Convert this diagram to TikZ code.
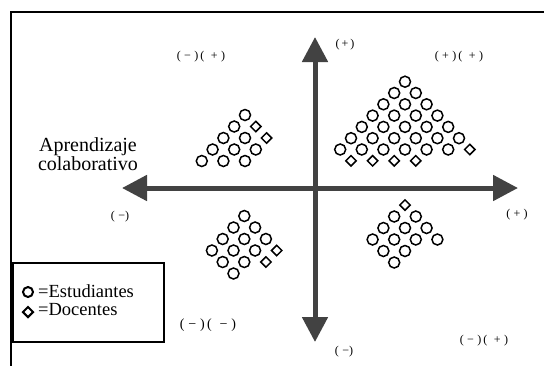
\documentclass[tikz,border=0pt]{standalone}
\usepackage{fontspec}
\setmainfont{Liberation Serif}
\usetikzlibrary{arrows.meta,shapes.geometric}
\definecolor{axisgray}{HTML}{424242}
\begin{document}
\begin{tikzpicture}[x=1pt,y=-1pt,
  stu/.style={circle,draw=black,line width=1.5pt,minimum size=11pt,inner sep=0pt},
  doc/.style={diamond,draw=black,line width=1.5pt,minimum size=11pt,inner sep=0pt},
  axisline/.style={draw=axisgray,line width=5pt,-{Triangle[length=25pt,width=25pt]}},
  sign/.style={font=\fontsize{12}{13}\selectfont,inner sep=0pt},
  bigtext/.style={font=\fontsize{20}{16}\selectfont,align=center,inner sep=0pt}]
\useasboundingbox (0,0) rectangle (544,365);
% frame
\draw[line width=2pt] (544,12) -- (11,12) -- (11,366);
% axes
\coordinate (C) at (315,188);
\coordinate (L) at (122,188);
\coordinate (R) at (518,188);
\coordinate (T) at (315,37);
\coordinate (B) at (315,342);
\path[axisline] (C) -- (L);
\path[axisline] (C) -- (R);
\path[axisline] (C) -- (T);
\path[axisline] (C) -- (B);
% labels
\node[sign] (st) at (345,45) {(\,+\,)};
\node[sign] (spp) at (459,57) {(\;+\;)\,(\;\;+\;)};
\node[sign] (smp) at (201,57) {(\;−\;)\,(\;\;+\;)};
\node[sign] (sl) at (120,217) {(\;−)};
\node[sign] (sr) at (517,215) {(\;+\;)};
\node[sign] (sb) at (344,352) {(\;−)};
\node[sign] (smp2) at (484,341) {(\;−\;)\,(\;\;+\;)};
\node[sign,font=\fontsize{14}{15}\selectfont] (smm) at (208,325) {(\;−\;)\,(\;\;−\;)};
\node[bigtext] (title) at (88,154) {Aprendizaje\\colaborativo};
% cluster 1 (upper left)
\foreach \r/\ks/\kd in {0/{0}/{},1/{0}/{1},2/{0,1}/{2},3/{0,1,2}/{},4/{0,1,2}/{}}{
  \foreach \k in \ks {\node[stu] (a-\r-\k) at ({245-10.8*\r+21.6*\k},{115+11.5*\r}) {};}
  \foreach \k in \kd {\node[doc] (ad-\r-\k) at ({245-10.8*\r+21.6*\k},{115+11.5*\r}) {};}
}
% cluster 2 (upper right)
\foreach \r/\ks/\kd in {0/{0}/{},1/{0,1}/{},2/{0,1,2}/{},3/{0,1,2,3}/{},4/{0,1,2,3,4}/{},5/{0,1,2,3,4,5}/{},6/{0,1,2,3,4,5}/{6},7/{}/{1,2,3,4}}{
  \foreach \k in \ks {\node[stu] (b-\r-\k) at ({405-10.8*\r+21.6*\k},{81.7+11.3*\r}) {};}
  \foreach \k in \kd {\node[doc] (bd-\r-\k) at ({405-10.8*\r+21.6*\k},{81.7+11.3*\r}) {};}
}
% cluster 3 (lower left)
\foreach \r/\sx/\ks/\kd in {0/244.3/{0}/{},1/233.5/{0,1}/{},2/222.7/{0,1,2}/{},3/211.9/{0,1,2}/{3},4/222.7/{0,1}/{2},5/233.5/{0}/{}}{
  \foreach \k in \ks {\node[stu] (c-\r-\k) at ({\sx+21.6*\k},{216+11.5*\r}) {};}
  \foreach \k in \kd {\node[doc] (cd-\r-\k) at ({\sx+21.6*\k},{216+11.5*\r}) {};}
}
% cluster 4 (lower right)
\foreach \r/\sx/\ks/\kd in {0/405/{}/{0},1/394.2/{0,1}/{},2/383.4/{0,1,2}/{},3/372.6/{0,1,2,3}/{},4/383.4/{0,1}/{},5/394.2/{0}/{}}{
  \foreach \k in \ks {\node[stu] (d-\r-\k) at ({\sx+21.6*\k},{205+11.5*\r}) {};}
  \foreach \k in \kd {\node[doc] (dd-\r-\k) at ({\sx+21.6*\k},{205+11.5*\r}) {};}
}
% legend
\node[draw=black,line width=1.5pt,minimum width=151pt,minimum height=79pt,inner sep=0pt] (legend) at (88.5,302.5) {};
\node[stu,line width=2pt,minimum size=10pt] (lc) at (28,292) {};
\node[doc,line width=2pt,minimum size=11pt] (ld) at (28,312) {};
\node[anchor=west,font=\fontsize{18.5}{18}\selectfont,inner sep=0pt] (le) at (38,291) {=Estudiantes};
\node[anchor=west,font=\fontsize{18.5}{18}\selectfont,inner sep=0pt] (lt) at (38,310) {=Docentes};
\end{tikzpicture}
\end{document}
